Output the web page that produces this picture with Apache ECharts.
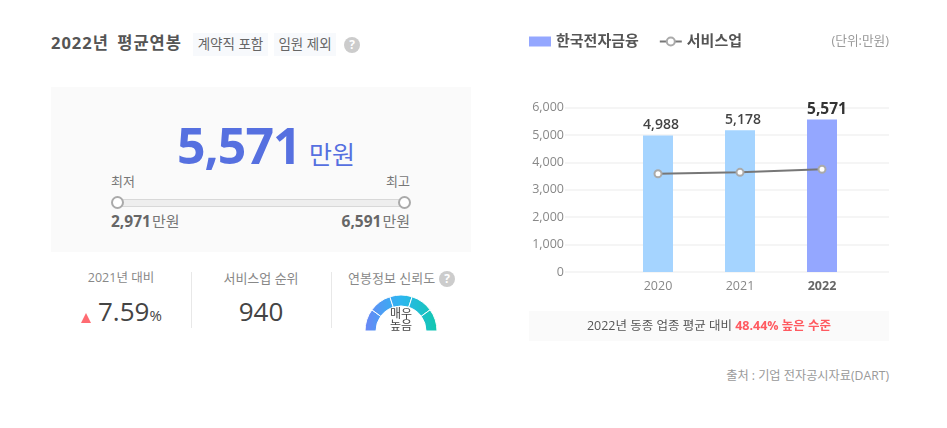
<!DOCTYPE html>
<html lang="ko">
<head>
<meta charset="utf-8">
<title>2022년 평균연봉</title>
<script src="https://cdn.jsdelivr.net/npm/echarts@6/dist/echarts.min.js"></script>
<style>
html,body{margin:0;padding:0;background:#fff;}
body{width:947px;height:428px;position:relative;overflow:hidden;font-family:"Open Sans","Noto Sans CJK KR",sans-serif;}
.t{position:absolute;white-space:nowrap;line-height:1;}
.box{position:absolute;}
.tag{position:absolute;height:23px;line-height:22px;background:#f7f9fc;color:#666;font-size:13.5px;text-align:center;}
.help{position:absolute;width:16px;height:16px;line-height:16px;border-radius:50%;background:#ccc;color:#fff;font-size:12px;font-weight:bold;text-align:center;}
.line{position:absolute;top:272px;width:1px;height:56px;background:#e8e8e8;}
.knob{position:absolute;top:196px;width:9px;height:9px;border:2px solid #aaa;border-radius:50%;background:#fff;}
.unit{font-size:15px;font-weight:normal;color:#777;margin-left:1px;}
#chart{position:absolute;left:520px;top:20px;width:400px;height:285px;}
#gauge{position:absolute;left:351px;top:290px;width:100px;height:41px;}
</style>
</head>
<body>

<!-- 왼쪽 타이틀 -->
<div class="t" style="left:51px;top:35px;font-size:16.5px;font-weight:bold;color:#555;letter-spacing:1px;word-spacing:3px;">2022년 평균연봉</div>
<div class="tag" style="left:193px;top:33px;width:75px;">계약직 포함</div>
<div class="tag" style="left:274px;top:33px;width:62px;">임원 제외</div>
<div class="help" style="left:344px;top:37px;">?</div>

<!-- 평균연봉 패널 -->
<div class="box" style="left:51px;top:87px;width:420px;height:165px;background:#fafafa;"></div>
<div class="t" style="left:177px;top:120px;font-size:50px;font-weight:bold;color:#5670e0;letter-spacing:-1px;">5,571</div>
<div class="t" style="left:309px;top:142px;font-size:25px;color:#5670e0;">만원</div>
<div class="t" style="left:111px;top:175px;font-size:13px;color:#777;">최저</div>
<div class="t" style="right:537px;top:175px;font-size:13px;color:#777;">최고</div>
<div class="box" style="left:112px;top:199px;width:296px;height:6px;background:#eee;border:1px solid #d8d8d8;border-radius:4px;"></div>
<div class="knob" style="left:111px;"></div>
<div class="knob" style="left:398px;"></div>
<div class="t" style="left:111px;top:214px;font-size:15.5px;font-weight:bold;color:#666;">2,971<span class="unit">만원</span></div>
<div class="t" style="right:537px;top:214px;font-size:15.5px;font-weight:bold;color:#666;">6,591<span class="unit">만원</span></div>

<!-- 하단 지표 -->
<div class="t" style="left:61px;width:120px;text-align:center;top:272px;font-size:12.5px;color:#888;">2021년 대비</div>
<div class="box" style="left:81px;top:313px;width:0;height:0;border-left:5.5px solid transparent;border-right:5.5px solid transparent;border-bottom:10px solid #ff6b72;"></div>
<div class="t" style="left:98px;top:298px;font-size:26px;color:#444;">7.59<span style="font-size:15px;">%</span></div>
<div class="line" style="left:191px;"></div>
<div class="t" style="left:201px;width:120px;text-align:center;top:272px;font-size:13px;color:#888;">서비스업 순위</div>
<div class="t" style="left:201px;width:120px;text-align:center;top:298px;font-size:26px;color:#444;">940</div>
<div class="line" style="left:331px;"></div>
<div class="t" style="left:348px;top:272px;font-size:13px;color:#888;">연봉정보 신뢰도</div>
<div class="help" style="left:439px;top:271px;">?</div>
<div id="gauge"></div>
<div class="t" style="left:371px;width:60px;text-align:center;top:308px;font-size:12px;line-height:11.5px;color:#444;">매우<br>높음</div>

<!-- 오른쪽 차트 -->
<div id="chart"></div>
<div class="t" style="right:58px;top:34px;font-size:12.7px;color:#999;">(단위:만원)</div>
<div class="box" style="left:529px;top:311px;width:360px;height:30px;background:#fafafa;"></div>
<div class="t" style="left:529px;width:360px;text-align:center;top:320px;font-size:12.5px;color:#555;">2022년 동종 업종 평균 대비 <span style="color:#ff5a60;font-weight:bold;">48.44% 높은 수준</span></div>
<div class="t" style="right:58px;top:370px;font-size:12.2px;color:#999;">출처 : 기업 전자공시자료(DART)</div>

<script>
// 차트 데이터
const years = ['2020', '2021', '2022'];
const companyPay = [4988, 5178, 5571];     // 한국전자금융
const industryPay = [3590, 3640, 3753];    // 서비스업
const yTicks = [0, 1000, 2000, 3000, 4000, 5000, 6000];
const gaugeSteps = [1, 1, 1, 1, 1];        // 신뢰도 5단계
const gaugeColors = ['#6a86f5', '#4a9ff4', '#2cb6f0', '#1ebfd0', '#12c7ae'];

const font = '"Open Sans","Noto Sans CJK KR",sans-serif';
const lastYear = years.length - 1;

// 막대 + 꺾은선
let chart = echarts.init(document.getElementById('chart'));
chart.setOption({
    animation: false,
    textStyle: { fontFamily: font },
    legend: {
        left: 9, top: 14, padding: 0, itemWidth: 22, itemHeight: 10, itemGap: 20,
        textStyle: { fontSize: 15, fontWeight: 'bold', color: '#555', fontFamily: font },
        data: [{ name: '한국전자금융', icon: 'rect' }, { name: '서비스업' }]
    },
    // 눈금선은 넓은 grid, 막대는 안쪽 grid
    grid: [
        { left: 45, width: 324, top: 87.7, height: 164.3 },
        { left: 97, width: 246, top: 87.7, height: 164.3 }
    ],
    xAxis: [
        { gridIndex: 0, type: 'category', show: false, data: years },
        {
            gridIndex: 1, type: 'category',
            data: years.map((y, i) => i == lastYear
                ? { value: y, textStyle: { fontWeight: 'bold', color: '#666' } }
                : y),
            axisLine: { show: false }, axisTick: { show: false },
            axisLabel: { fontSize: 12.5, color: '#888', margin: 8, fontFamily: font }
        }
    ],
    yAxis: [
        {
            gridIndex: 0, type: 'value', min: yTicks[0], max: yTicks[yTicks.length - 1], interval: 1000,
            axisLine: { show: false }, axisTick: { show: false },
            axisLabel: { fontSize: 12.5, color: '#888', margin: 1, fontFamily: font, formatter: v => v.toLocaleString('en-US') },
            splitLine: { lineStyle: { color: '#f2f2f2', width: 1.5 } }
        },
        { gridIndex: 1, type: 'value', min: yTicks[0], max: yTicks[yTicks.length - 1], show: false }
    ],
    series: [
        {
            name: '한국전자금융', type: 'bar', xAxisIndex: 1, yAxisIndex: 1, barWidth: 30,
            itemStyle: { color: '#94a7ff' },
            label: {
                show: true, position: 'top', distance: 3, offset: [3, 0], fontFamily: font,
                fontSize: 14, fontWeight: 600, color: '#444',
                formatter: p => p.value.toLocaleString('en-US')
            },
            data: companyPay.map((v, i) => i == lastYear
                ? { value: v, label: { fontSize: 15.5, fontWeight: 'bold', color: '#333', offset: [5, 0], distance: 2 } }
                : { value: v, itemStyle: { color: '#a5d4ff' } })
        },
        {
            name: '서비스업', type: 'line', xAxisIndex: 1, yAxisIndex: 1, z: 5,
            symbol: 'circle', symbolSize: 7, showSymbol: true,
            lineStyle: { color: '#777', width: 2 },
            itemStyle: { color: '#fff', borderColor: '#aaa', borderWidth: 2 },
            data: industryPay
        }
    ]
});

// 신뢰도 게이지
let gauge = echarts.init(document.getElementById('gauge'));
let gaugeFill = {
    type: 'linear', global: true, x: 14, y: 0, x2: 86, y2: 0,
    colorStops: gaugeColors.map((c, i) => ({ offset: i / (gaugeColors.length - 1), color: c }))
};
gauge.setOption({
    animation: false,
    series: [{
        type: 'pie', silent: true,
        center: [50, 41], radius: [25, 36],
        startAngle: 180, endAngle: 0,
        label: { show: false },
        itemStyle: { borderColor: '#fff', borderWidth: 1, color: gaugeFill },
        data: gaugeSteps
    }]
});
</script>
</body>
</html>
